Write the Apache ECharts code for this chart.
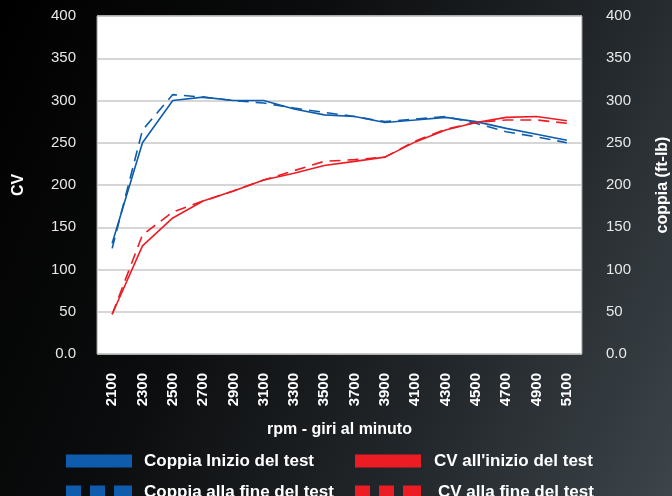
<!DOCTYPE html>
<html><head><meta charset="utf-8">
<script src="https://cdn.jsdelivr.net/npm/echarts@6/dist/echarts.min.js"></script>
<style>
html,body{margin:0;padding:0;}
body{width:672px;height:496px;background:linear-gradient(115deg,#000 0%,#0b0c0d 35%,#23282c 70%,#3d454a 100%);}
#c{width:672px;height:496px;}
</style></head><body>
<div id="c"></div>
<script>
const categories = ['2100','2300','2500','2700','2900','3100','3300','3500','3700','3900','4100','4300','4500','4700','4900','5100'];
const coppiaInizio = [131,250,300,304,300,300,290,283,281,274,277,280,275,267,260,253];
const coppiaFine   = [125,265,307,304,300,297,291,286,281,275,278,281,273,263,257,250];
const cvInizio     = [47,128,161,181,193,206,214,223,228,233,251,265,274,280,281,276];
const cvFine       = [47,141,168,181,193,206,217,228,230,233,252,266,274,277,277,273];
const yTicks = [0,50,100,150,200,250,300,350,400];

const BLUE = '#0F5CAD', RED = '#EC1C24';
const dashIcon = 'path://M0,0h15v13h-15z M24,0h15v13h-15z M48,0h18v13h-18z';
const FONT = 'Liberation Sans, Arial, sans-serif';
const chart = echarts.init(document.getElementById('c'));
const yLab = {color:'#e8e8e8', fontSize:15, fontFamily:FONT, formatter: v => v===0 ? '0.0' : String(v)};
const yName = {color:'#fff', fontSize:16, fontWeight:'bold', fontFamily:FONT};
function yAxis(pos, name, gap, margin){
  return {type:'value', position:pos, min:yTicks[0], max:yTicks[yTicks.length-1], interval:50,
    name:name, nameLocation:'middle', nameRotate:90, nameGap:gap, nameTextStyle:yName,
    axisLine:{show:false}, axisTick:{show:false},
    axisLabel:Object.assign({margin:margin}, yLab),
    splitLine:{show: pos==='left', lineStyle:{color:'#c8c8c8', width:1.5}}};
}
const legText = {color:'#fff', fontSize:17, lineHeight:17, fontWeight:'bold', fontFamily:FONT};
function leg(left, top, name, icon, w, pad){
  return {left:left, top:top, itemWidth:w, itemHeight:13, padding:0,
    textStyle:Object.assign({}, legText, {padding:[3,0,0,pad]}),
    data:[{name:name, icon:icon}]};
}
chart.setOption({
  backgroundColor:'transparent',
  animation:false,
  grid:{left:97, right:90, top:16, bottom:142, outerBoundsMode:'none', containLabel:false, show:true, backgroundColor:'#fff', borderColor:'#9a9a9a', borderWidth:1},
  xAxis:{type:'category', data:categories, boundaryGap:true,
    name:'rpm - giri al minuto', nameLocation:'middle', nameGap:68,
    nameTextStyle:{color:'#fff', fontSize:16, fontWeight:'bold', fontFamily:FONT},
    axisLine:{show:false}, axisTick:{show:false},
    axisLabel:{rotate:90, margin:19, interval:0, color:'#fff', fontSize:15, fontWeight:'bold', fontFamily:FONT}},
  yAxis:[yAxis('left','CV',70,21), yAxis('right','coppia (ft-lb)',73,24)],
  legend:[
    leg(66, 451, 'Coppia Inizio del test', 'rect', 66, 7),
    leg(66, 482, 'Coppia alla fine del test', dashIcon, 66, 7),
    leg(355, 451, "CV all'inizio del test", 'rect', 66, 8),
    leg(355, 482, 'CV alla fine del test', dashIcon, 66, 12)
  ],
  series:[
    {name:'Coppia Inizio del test', type:'line', yAxisIndex:1, data:coppiaInizio, symbol:'none', color:BLUE, lineStyle:{color:BLUE, width:1.6}},
    {name:'Coppia alla fine del test', type:'line', yAxisIndex:1, data:coppiaFine, symbol:'none', color:BLUE, lineStyle:{color:BLUE, width:1.6, type:[11,7]}},
    {name:"CV all'inizio del test", type:'line', yAxisIndex:0, data:cvInizio, symbol:'none', color:RED, lineStyle:{color:RED, width:1.6}},
    {name:'CV alla fine del test', type:'line', yAxisIndex:0, data:cvFine, symbol:'none', color:RED, lineStyle:{color:RED, width:1.6, type:[11,7]}}
  ]
});
</script>
</body></html>
